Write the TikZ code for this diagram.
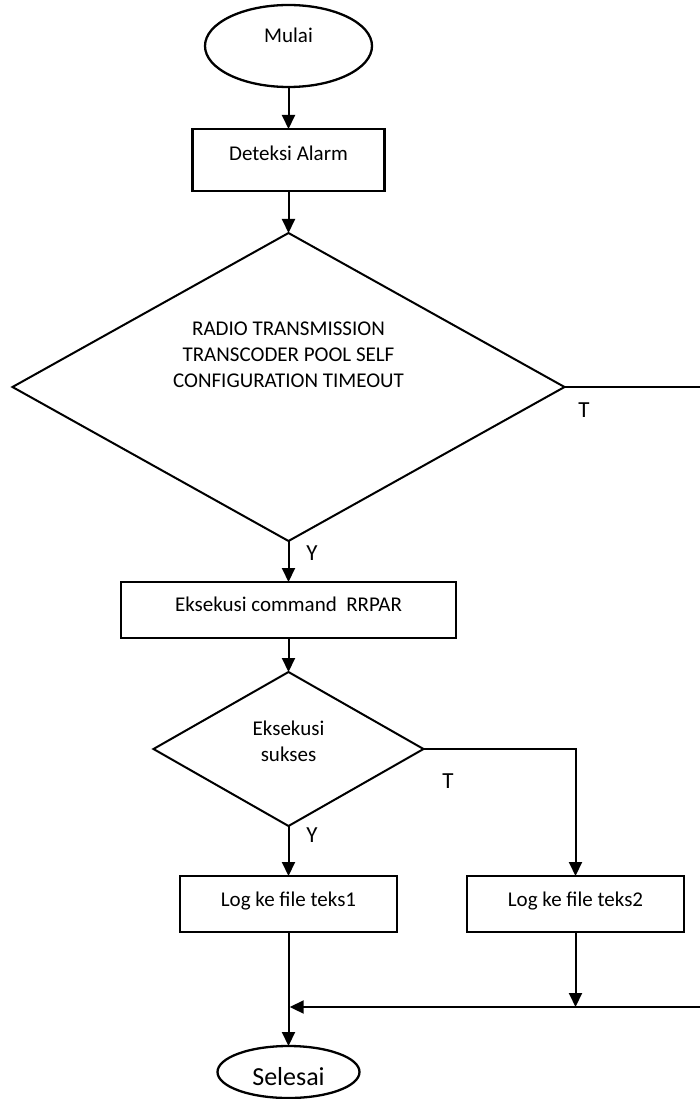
\documentclass[tikz,border=0pt]{standalone}
\usepackage{fontspec}
\setmainfont{Carlito}
\usetikzlibrary{shapes.geometric,arrows.meta}
\begin{document}
\begin{tikzpicture}[x=1pt,y=-1pt,
  every node/.style={inner sep=0pt, outer sep=0pt},
  txt/.style={font=\fontsize{21}{26}\selectfont, align=center},
  branchlbl/.style={font=\fontsize{23}{28}\selectfont, anchor=base},
  terminal/.style={draw, ellipse, line width=2.3pt},
  process/.style={draw, rectangle, line width=2.4pt},
  decision/.style={draw, diamond, line width=2pt},
  flow/.style={line width=2pt},
  arrowflow/.style={flow, -{Triangle[length=14pt,width=13pt]}}]
\useasboundingbox (0,0) rectangle (700,1099);

% shapes
\node[terminal, minimum width=167pt, minimum height=82pt] (mulai) at (288.5,46) {};
\node[process, minimum width=192pt, minimum height=62pt] (deteksi) at (288.5,160) {};
\node[decision, minimum width=552pt, minimum height=308pt] (cek1) at (288.5,387) {};
\node[process, minimum width=335pt, minimum height=56pt] (rrpar) at (288.5,610) {};
\node[decision, minimum width=270pt, minimum height=154pt] (cek2) at (288.5,749) {};
\node[process, minimum width=217pt, minimum height=56pt] (log1) at (288.5,904) {};
\node[process, minimum width=217pt, minimum height=56pt] (log2) at (575.5,904) {};
\node[terminal, minimum width=142pt, minimum height=52pt] (selesai) at (288.5,1072) {};

% texts inside the shapes
\node[txt, anchor=base] (mulaiT) at (288.5,43) {Mulai};
\node[txt, anchor=base] (deteksiT) at (288.5,161) {Deteksi Alarm};
\node[txt, anchor=north] (cek1T) at (288.5,322) {RADIO TRANSMISSION\\TRANSCODER POOL SELF\\CONFIGURATION\ TIMEOUT};
\node[txt, anchor=base] (rrparT) at (288.5,611) {Eksekusi command\ \ RRPAR};
\node[txt, anchor=north] (cek2T) at (288.5,721) {Eksekusi\\sukses};
\node[txt, anchor=base] (log1T) at (288.5,906) {Log ke file teks1};
\node[txt, anchor=base] (log2T) at (575.5,906) {Log ke file teks2};
\node[txt, anchor=base, font=\fontsize{26}{31}\selectfont] (selesaiT) at (288.5,1085) {Selesai};

% free ends at the right margin
\coordinate (keluar) at (700,387);
\coordinate (masuk) at (700,1007);
\coordinate (gabungKiri) at (log1.south |- masuk);
\coordinate (gabungKanan) at (log2.south |- masuk);

% connectors
\draw[arrowflow] (mulai.south) -- (deteksi.north);
\draw[arrowflow] (deteksi.south) -- (cek1.north);
\draw[flow] (cek1.east) -- (keluar);
\draw[arrowflow] (cek1.south) -- (rrpar.north);
\draw[arrowflow] (rrpar.south) -- (cek2.north);
\draw[arrowflow] (cek2.south) -- (log1.north);
\draw[arrowflow] (cek2.east) -| (log2.north);
\draw[arrowflow] (log1.south) -- (selesai.north);
\draw[arrowflow] (log2.south) -- (gabungKanan);
\draw[arrowflow, shorten >=1.2pt] (masuk) -- (gabungKiri);

% branch labels
\node[branchlbl] (t1) at (584,417) {T};
\node[branchlbl] (y1) at (312,560) {Y};
\node[branchlbl] (t2) at (448,788) {T};
\node[branchlbl] (y2) at (312,842) {Y};
\end{tikzpicture}
\end{document}
